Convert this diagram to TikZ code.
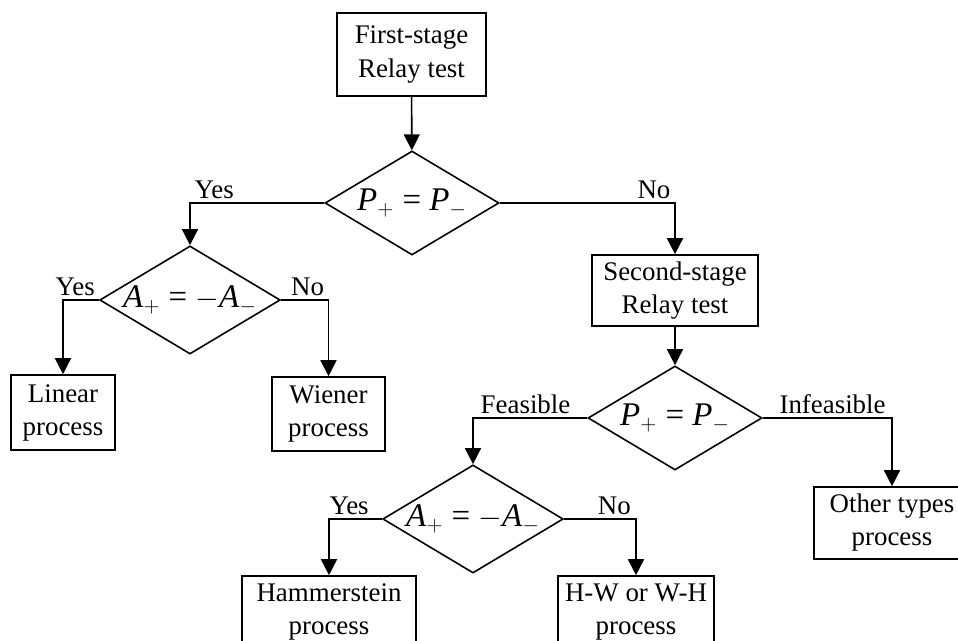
\documentclass[tikz,border=0pt]{standalone}
\usepackage{fontspec}
\setmainfont{Liberation Serif}
\usepackage{amsmath}
\usepackage{tikz}
\usetikzlibrary{shapes,arrows.meta,positioning,calc}

\newcommand{\eqP}{\textit{P}$_{+}$ = \textit{P}$_{-}$}
\newcommand{\eqA}{\textit{A}$_{+}$ = $-$\textit{A}$_{-}$}

\begin{document}
\begin{tikzpicture}[
    line width=0.9pt,
    procbox/.style={draw, rectangle, align=center, inner sep=2pt,
        font=\fontsize{15.3}{18.8}\selectfont},
    test/.style={draw, diamond, aspect=1.67, inner sep=0pt,
        minimum width=3.48cm, minimum height=2.08cm,
        font=\fontsize{18.8}{22}\selectfont},
    lbl/.style={font=\fontsize{15.3}{18.8}\selectfont, inner sep=1pt, above=1pt},
    arr/.style={-{Triangle[length=0.32cm,width=0.32cm]}}
]
    \useasboundingbox (0,0) rectangle (19.16,12.82);

    % First stage
    \node[procbox, minimum width=2.98cm, minimum height=1.66cm] (first) at (8.23,11.73) {First-stage\\Relay test};
    \node[test] (d1) at (8.24,8.76) {\eqP};

    % Left branch
    \node[test] (d2) at (3.80,6.82) {\eqA};
    \node[procbox, minimum width=2.08cm, minimum height=1.5cm] (linear) at (1.26,4.57) {Linear\\process};
    \node[procbox, minimum width=2.26cm, minimum height=1.48cm] (wiener) at (6.57,4.54) {Wiener\\process};

    % Second stage
    \node[procbox, minimum width=3.32cm, minimum height=1.42cm] (second) at (13.5,7.01) {Second-stage\\Relay test};
    \node[test] (d3) at (13.5,4.46) {\eqP};
    \node[procbox, minimum width=3.12cm, minimum height=1.44cm] (other) at (17.84,2.36) {Other types\\process};
    \node[test] (d4) at (9.46,2.44) {\eqA};
    \node[procbox, minimum width=3.48cm, minimum height=1.44cm] (hammer) at (6.58,0.58) {Hammerstein\\process};
    \node[procbox, minimum width=3.12cm, minimum height=1.44cm] (hw) at (12.72,0.58) {H-W or W-H\\process};

    % Connectors
    \draw[arr] (first) -- (d1);
    \draw[arr] (d1.west) -| node[lbl, pos=0.41] (yes1) {Yes} (d2.north);
    \draw[arr] (d1.east) -| node[lbl, pos=0.44] (no1) {No} (second.north);
    \draw[arr] (d2.west) -| node[lbl, pos=0.33] (yes2) {Yes} (linear.north);
    \draw[arr] (d2.east) -| node[lbl, pos=0.28] (no2) {No} (wiener.north);
    \draw[arr] (second) -- (d3);
    \draw[arr] (d3.west) -| node[lbl, pos=0.27] (feas) {Feasible} (d4.north);
    \draw[arr] (d3.east) -| node[lbl, pos=0.27] (infeas) {Infeasible} (other.north);
    \draw[arr] (d4.west) -| node[lbl, pos=0.31] (yes3) {Yes} (hammer.north);
    \draw[arr] (d4.east) -| node[lbl, pos=0.35] (no3) {No} (hw.north);

\end{tikzpicture}
\end{document}
